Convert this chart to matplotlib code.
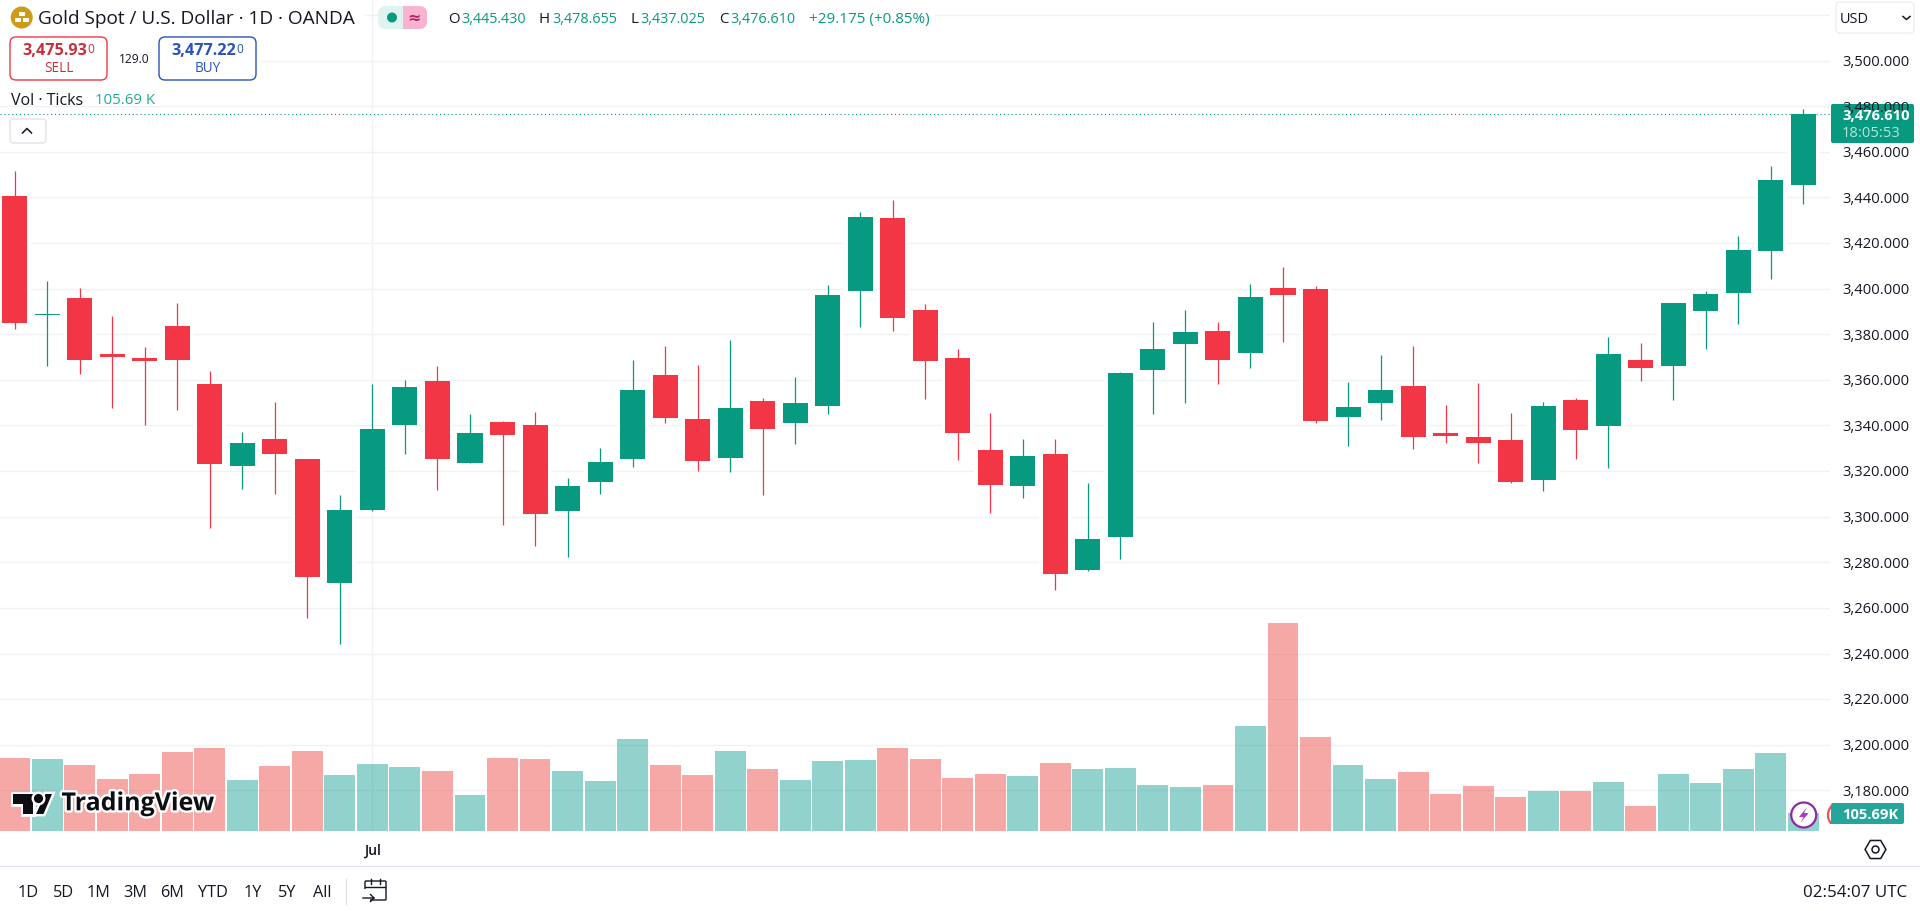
import matplotlib
matplotlib.use('Agg')
import matplotlib.pyplot as plt
import matplotlib.patheffects as pe
from matplotlib.patches import Circle, FancyBboxPatch, Polygon, Rectangle

# daily candles
opens = [3440.7, 3388.3, 3395.9, 3371.4, 3369.6, 3383.6, 3358.2, 3322.4, 3334.1, 3325.3,
         3271.1, 3303.1, 3340.0, 3359.5, 3323.7, 3341.6, 3340.2, 3302.7, 3315.4, 3325.5,
         3362.2, 3342.9, 3325.9, 3350.8, 3341.3, 3348.7, 3399.2, 3431.0, 3390.7, 3369.6,
         3329.3, 3313.6, 3327.5, 3276.8, 3291.3, 3364.5, 3375.9, 3381.5, 3372.0, 3400.3,
         3399.9, 3343.9, 3350.0, 3357.3, 3336.7, 3335.0, 3333.6, 3316.2, 3351.2, 3339.9,
         3368.7, 3366.2, 3390.4, 3398.3, 3416.7, 3445.43]
highs = [3451.6, 3403.4, 3400.3, 3388.0, 3374.4, 3393.7, 3363.9, 3337.2, 3350.3, 3325.3,
         3309.5, 3358.2, 3360.0, 3366.1, 3345.1, 3342.0, 3345.9, 3317.0, 3330.2, 3368.8,
         3374.9, 3366.6, 3377.5, 3352.1, 3361.3, 3401.7, 3433.7, 3438.9, 3393.3, 3373.6,
         3345.5, 3334.1, 3334.1, 3314.8, 3363.5, 3385.4, 3390.7, 3385.4, 3402.1, 3409.5,
         3401.2, 3359.1, 3370.9, 3374.9, 3349.0, 3358.6, 3345.5, 3350.3, 3352.1, 3378.8,
         3376.2, 3393.7, 3399.0, 3423.1, 3453.8, 3478.655]
lows = [3382.3, 3366.3, 3362.6, 3347.7, 3340.2, 3347.0, 3295.0, 3312.2, 3310.0, 3255.6,
        3244.2, 3302.7, 3327.6, 3311.7, 3323.7, 3296.4, 3287.2, 3282.5, 3310.1, 3321.8,
        3341.1, 3320.1, 3319.6, 3309.5, 3331.9, 3345.1, 3383.2, 3381.5, 3351.7, 3324.9,
        3301.5, 3308.2, 3267.9, 3276.2, 3281.5, 3345.1, 3349.9, 3358.2, 3365.2, 3376.8,
        3341.1, 3331.0, 3342.4, 3329.7, 3332.3, 3323.6, 3314.8, 3311.3, 3325.3, 3321.4,
        3359.5, 3351.2, 3373.6, 3384.5, 3404.3, 3437.025]
closes = [3385.0, 3388.6, 3368.9, 3370.2, 3368.4, 3368.9, 3323.3, 3332.3, 3327.6, 3273.7,
          3303.0, 3338.5, 3356.9, 3325.5, 3336.7, 3336.0, 3301.4, 3313.5, 3324.0, 3355.6,
          3343.5, 3324.6, 3347.7, 3338.6, 3349.9, 3397.3, 3431.5, 3387.3, 3368.4, 3336.9,
          3314.1, 3326.6, 3275.0, 3290.2, 3363.1, 3373.6, 3381.0, 3368.9, 3396.4, 3397.4,
          3342.1, 3348.1, 3355.6, 3335.1, 3335.4, 3332.5, 3315.4, 3348.6, 3338.2, 3371.4,
          3365.4, 3393.7, 3397.7, 3417.0, 3447.7, 3476.61]
# tick volume, thousands
volumes = [426.6, 420.8, 385.5, 303.3, 332.7, 461.9, 485.3, 297.5, 379.7, 467.7,
           326.8, 391.4, 373.8, 350.3, 209.4, 426.6, 420.8, 350.3, 291.6, 538.2,
           385.5, 326.8, 467.7, 362.0, 297.5, 409.0, 414.9, 485.3, 420.8, 309.2,
           332.7, 320.9, 397.3, 362.0, 367.9, 268.1, 256.4, 268.1, 614.5, 1219.2,
           549.9, 385.5, 303.3, 344.4, 215.3, 262.2, 197.7, 232.9, 232.9, 285.7,
           144.8, 332.7, 279.9, 362.0, 456.0, 105.69]
price_ticks = [3180, 3200, 3220, 3240, 3260, 3280, 3300, 3320, 3340, 3360, 3380,
               3400, 3420, 3440, 3460, 3480, 3500]
grid_only = [3520]
jul_index = 11
ranges = ['1D', '5D', '1M', '3M', '6M', 'YTD', '1Y', '5Y', 'All']

UP = '#089981'
DOWN = '#f23645'
VOL_UP = '#26a69a'
VOL_DOWN = '#ef5350'
GRID = '#f0f1f4'
INK = '#131722'
TEAL = '#22ab94'
FONT = 'Open Sans'

plt.rcParams['font.family'] = [FONT, 'DejaVu Sans']

fig = plt.figure(figsize=(19.2, 9.12), dpi=100, facecolor='white')
pane = [0, 80 / 912, 1830 / 1920, 832 / 912]

ax = fig.add_axes(pane)
ax.set_xlim(-0.452, 55.82)
ax.set_ylim(3162.15, 3527.06)
for s in ax.spines.values():
    s.set_visible(False)
ax.set_xticks([])
ax.set_yticks([])
for p in price_ticks + grid_only:
    ax.axhline(p, color=GRID, lw=1.0, zorder=0)
ax.axvline(jul_index, color=GRID, lw=1.0, zorder=0)

n = len(closes)
xs = list(range(n))
colors = [UP if closes[i] >= opens[i] else DOWN for i in xs]
vol_colors = [VOL_UP if closes[i] >= opens[i] else VOL_DOWN for i in xs]
bottoms = [min(opens[i], closes[i]) for i in xs]
heights = [max(abs(closes[i] - opens[i]), 0.45) for i in xs]

# volume has its own scale on the same pane
vol_ax = ax.twinx()
vol_ax.set_ylim(0, 4884)
vol_ax.set_yticks([])
for s in vol_ax.spines.values():
    s.set_visible(False)
vol_ax.bar(xs, volumes, width=0.95, color=vol_colors, alpha=0.5, linewidth=0)
vol_ax.patch.set_visible(False)

# candles go above the volume bars
price_ax = fig.add_axes(pane, sharex=ax, sharey=ax)
price_ax.patch.set_visible(False)
price_ax.axis('off')
price_ax.bar(xs, heights, bottom=bottoms, width=0.98, color='white', linewidth=0, zorder=1)
price_ax.vlines(xs, lows, highs, colors=colors, lw=0.9, zorder=2)
price_ax.bar(xs, heights, bottom=bottoms, width=0.77, color=colors, linewidth=0, zorder=3)
price_ax.axhline(closes[-1], color=UP, lw=0.8, ls=(0, (1, 2.5)), zorder=4)
price_ax.set_xlim(-0.452, 55.82)
price_ax.set_ylim(3162.15, 3527.06)

# everything around the plot is laid out in screen pixels
ui = fig.add_axes([0, 0, 1, 1])
ui.set_xlim(0, 1920)
ui.set_ylim(912, 0)
ui.axis('off')
ui.patch.set_visible(False)


def label(x, y, s, size=14, color=INK, ha='left', weight='normal', **kw):
    return ui.text(x, y + 0.8, s, fontsize=size * 0.72, color=color, ha=ha, va='center',
                   fontweight=weight, **kw)


def box(x0, y0, x1, y1, face='white', edge='none', lw=1.0, r=4):
    ui.add_patch(FancyBboxPatch((x0 + r, y0 + r), x1 - x0 - 2 * r, y1 - y0 - 2 * r,
                                boxstyle='round,pad=%d' % r, fc=face, ec=edge, lw=lw))


# white panels behind the legend
for x0, y0, x1, y1 in [(0, 0, 365, 34), (378, 0, 935, 34), (0, 34, 262, 86), (0, 90, 160, 107)]:
    ui.add_patch(Rectangle((x0, y0), x1 - x0, y1 - y0, fc='white', ec='none'))

# symbol line
ui.add_patch(Circle((21.7, 18.5), 11, fc='#cf9a16', ec='none'))
ui.add_patch(Rectangle((18.5, 12.5), 6.5, 4, fc='white', ec='none'))
ui.add_patch(Rectangle((14.5, 18.5), 6.5, 4, fc='white', ec='none'))
ui.add_patch(Rectangle((22.5, 18.5), 6.5, 4, fc='white', ec='none'))
label(38, 18.5, 'Gold Spot / U.S. Dollar · 1D · OANDA', size=19)
box(378, 7, 427, 30, face='#dff3f0', r=8)
box(403, 7, 427, 30, face='#f9b3d0', r=8)
ui.add_patch(Rectangle((403, 7), 9, 23, fc='#f9b3d0', ec='none'))
ui.add_patch(Circle((392, 18.5), 5, fc=UP, ec='none'))
label(414, 17.5, '≈', size=16, color='#b0245f', ha='center', family=['DejaVu Sans'], weight='bold')
for x, s in [(448, 'O'), (539, 'H'), (630, 'L'), (719, 'C')]:
    label(x, 18.5, s, size=15)
for x, s in [(461, '3,445.430'), (552, '3,478.655'), (640, '3,437.025'), (730, '3,476.610')]:
    label(x, 18.5, s, size=14.4, color=UP)
label(809, 18.5, '+29.175 (+0.85%)', size=15.2, color=UP)

# sell and buy buttons
box(10, 38, 107, 81, edge=DOWN, lw=1.0, r=6)
box(159, 38, 256, 81, edge='#2a52be', lw=1.0, r=6)
label(87.5, 50.5, '3,475.93', size=16.2, color='#c9303e', ha='right', weight='bold')
label(87.5, 48.5, '0', size=12, color='#c9303e')
label(59, 68, 'SELL', size=13.5, color='#c9303e', ha='center')
label(236, 50.5, '3,477.22', size=16.2, color='#2a52be', ha='right', weight='bold')
label(236, 48.5, '0', size=12, color='#2a52be')
label(207.5, 68, 'BUY', size=13.5, color='#2a52be', ha='center')
label(134, 59, '129.0', size=12, ha='center')

label(11, 100, 'Vol · Ticks', size=16)
label(95, 100, '105.69 K', size=15, color=TEAL)

box(10, 120, 46, 144, edge='#e0e3eb', r=3)
ui.plot([22.5, 27, 31.5], [134, 129.5, 134], color=INK, lw=1.1)

# price scale
box(1836, 3, 1914, 34, edge='#eceef2', r=4)
label(1840, 19, 'USD', size=14.5)
ui.plot([1903, 1906.5, 1910], [17.5, 20.5, 17.5], color=INK, lw=1.1)
for p in price_ticks:
    y = 198.5 + (3440 - p) * 2.28
    label(1842, y, f'{p:,.3f}', size=14.8)

box(1831, 105, 1914, 144, face=UP, r=2)
label(1842, 115.5, f'{closes[-1]:,.3f}', size=14.8, color='white', weight='bold')
label(1842, 133, '18:05:53', size=14.8, color='#b5e6dc')

# event bubbles on the last bar
ui.add_patch(Circle((1803.7, 816), 12.5, fc='white', ec='#8e2aa8', lw=1.6))
ui.add_patch(Polygon([(1807, 808), (1799, 818), (1803.5, 818), (1800.5, 824), (1808.5, 814), (1804, 814)],
                     fc='#a53cc0', ec='none'))
ui.add_patch(Circle((1841, 816), 13, fc='white', ec='#ef5350', lw=1.6))

box(1831, 804, 1904, 825, face='#26a69a', r=2)
label(1842, 814.5, f'{volumes[-1]:.2f}K', size=14.8, color='white', weight='bold')
# cover what the second bubble would draw past the pane edge
ui.add_patch(Rectangle((1830, 825.5), 40, 6, fc='white', ec='none'))
ui.add_patch(Rectangle((1830, 800), 40, 4, fc='white', ec='none'))

# watermark
stroke = [pe.withStroke(linewidth=3.4, foreground='white')]
logo = [Polygon([(13, 795), (33, 795), (33, 815), (23, 815), (23, 805), (13, 805)]),
        Polygon([(45.5, 795), (52, 795), (43.5, 815), (36, 815)]),
        Circle((38.5, 799.5), 4.6)]
for part in logo:
    part.set(fc='#0c0e12', ec='none', path_effects=stroke)
    ui.add_patch(part)
label(61.5, 804, 'TradingView', size=25, color='#0c0e12', weight='bold', path_effects=stroke)

# time scale and toolbar
label(372.5, 850, 'Jul', size=14, ha='center', weight='semibold')
ui.plot([1875], [850], marker='H', ms=15, mfc='none', mec=INK, mew=1.1)
ui.plot([1875], [850], marker='o', ms=5, mfc='none', mec=INK, mew=1.1)
ui.plot([0, 1920], [867, 867], color='#e0e3eb', lw=0.9)
for x, s in zip([28, 63, 99, 135, 172, 213, 253, 287, 322], ranges):
    label(x, 892, s, size=16.2, ha='center')
ui.plot([345.5, 345.5], [880, 905], color='#e0e3eb', lw=1.0)
ui.add_patch(FancyBboxPatch((366, 883), 19, 17, boxstyle='round,pad=1', fc='none', ec=INK, lw=1.0))
ui.add_patch(Rectangle((362, 890), 8, 12, fc='white', ec='none'))
ui.plot([365, 385], [888, 888], color=INK, lw=1.0)
ui.plot([371, 371], [880, 885], color=INK, lw=1.0)
ui.plot([380, 380], [880, 885], color=INK, lw=1.0)
ui.plot([363, 374, 370.5], [899, 899, 895.5], color=INK, lw=1.0)
ui.plot([374, 370.5], [899, 902.5], color=INK, lw=1.0)
label(1907, 892, '02:54:07 UTC', size=17, ha='right')

fig.savefig('out.png', dpi=100)
